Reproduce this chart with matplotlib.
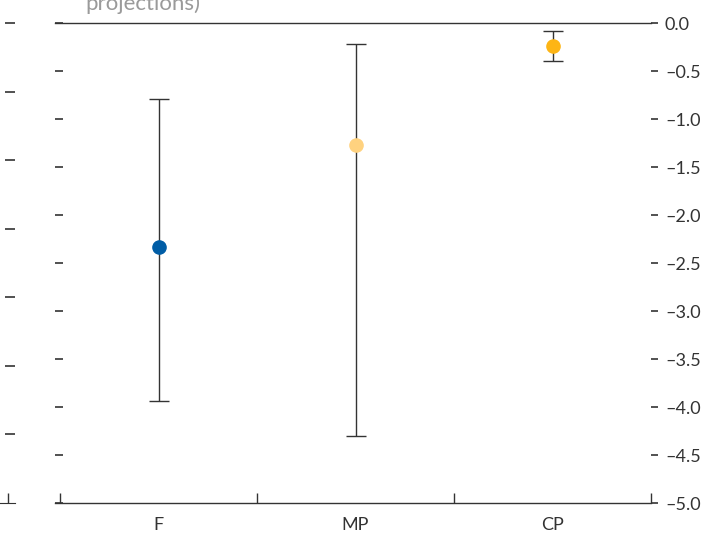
import numpy as np
import matplotlib; matplotlib.use("Agg")
import matplotlib.pyplot as plt

plt.rcParams["font.family"] = ["Lato", "DejaVu Sans"]

# point estimates with lower / upper range of the projections
categories = ["F", "MP", "CP"]
central = [-2.33, -1.27, -0.24]
upper = [-0.79, -0.22, -0.08]
lower = [-3.94, -4.30, -0.40]
colors = ["#005DA6", "#FFD27F", "#FDB515"]

yticks = np.arange(0.0, -5.01, -0.5)

INK = "#333333"
W, H = 702, 535
fig = plt.figure(figsize=(W / 100, H / 100), dpi=100)

# main panel
ax = fig.add_axes([55 / W, 32 / H, 596 / W, 480 / H])
x = np.arange(len(categories))
for xi, c, lo, hi, col in zip(x, central, lower, upper, colors):
    ax.errorbar(xi, c, yerr=[[c - lo], [hi - c]], fmt="none", ecolor=INK,
                elinewidth=1.0, capsize=7, capthick=1.0, zorder=2)
    ax.plot(xi, c, "o", color=col, markersize=9.5, zorder=3)

ax.set_xlim(-0.5 - 5 / 197, 2.5)
ax.set_ylim(-5.0, 0.0)
ax.set_xticks([-0.5, 0.5, 1.5, 2.5])
ax.set_xticklabels([])
ax.set_xticks(x, minor=True)
ax.set_xticklabels(categories, minor=True)
ax.tick_params(axis="x", which="major", direction="in", length=7, color=INK, width=1)
ax.tick_params(axis="x", which="minor", length=0, pad=10, labelsize=13, labelcolor=INK)
ax.set_yticks(yticks)
ax.tick_params(axis="y", direction="in", length=6, color=INK, width=1.2,
               left=True, right=False, labelleft=False)
for s in ["left", "right"]:
    ax.spines[s].set_visible(False)
for s in ["top", "bottom"]:
    ax.spines[s].set_color(INK)
    ax.spines[s].set_linewidth(1.0)

# right-hand value axis
ay = ax.twinx()
ay.set_ylim(-5.0, 0.0)
ay.set_yticks(yticks)
ay.set_yticklabels([f"{v:.1f}".replace("-", "\u2013") for v in yticks])
ay.tick_params(axis="y", direction="out", length=5, color=INK, width=1.2,
               pad=5, labelsize=13, labelcolor=INK)
for s in ay.spines.values():
    s.set_visible(False)

# neighbouring panel edge
al = fig.add_axes([-20 / W, 32 / H, 35 / W, 480 / H])
al.set_ylim(-7, 0)
al.set_xlim(0, 1)
al.set_yticks(np.arange(0, -6.5, -1))
al.set_yticklabels([])
al.yaxis.tick_right()
al.tick_params(axis="y", direction="in", length=7, color=INK, width=1.2)
al.set_xticks([28 / 35])
al.set_xticklabels([])
al.tick_params(axis="x", direction="in", length=7, color=INK, width=1)
for s in ["left", "right", "top"]:
    al.spines[s].set_visible(False)
al.spines["bottom"].set_color(INK)
al.patch.set_visible(False)

fig.text(85 / W, 1 - 10 / H, "projections)", color="#9A9A9A", fontsize=16,
         ha="left", va="baseline")

fig.savefig("out.png", dpi=100)
